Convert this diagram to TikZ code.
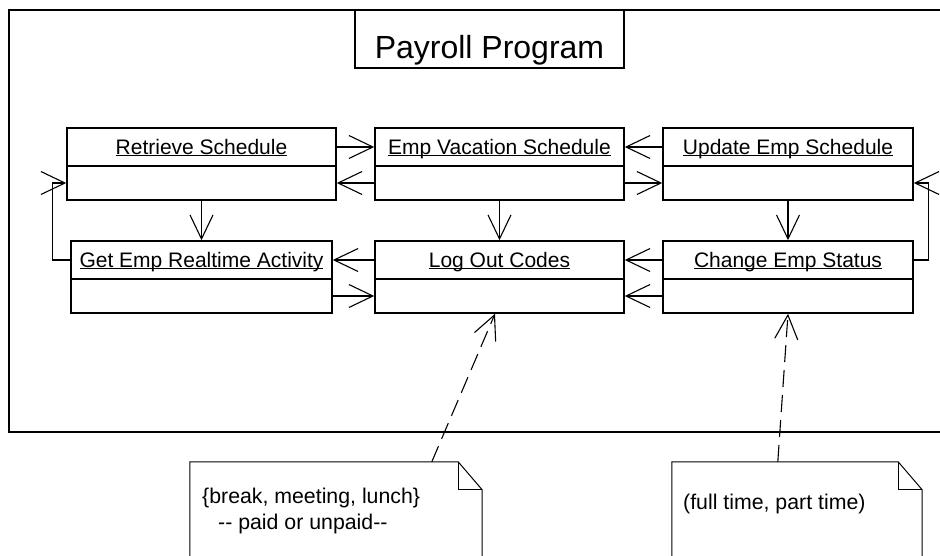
\documentclass[tikz,border=0pt]{standalone}
\usepackage{fontspec}
\setmainfont{Liberation Sans}
\usetikzlibrary{arrows.meta,calc}
\newcommand{\myul}[1]{\setbox0\hbox{#1}\rlap{\rule[-2.4pt]{\wd0}{1.1pt}}\box0}
\begin{document}
\begin{tikzpicture}[x=1pt,y=-1pt,
  boxhead/.style={draw,line width=1.6pt,inner sep=0pt,minimum height=38pt,
    text height=19pt,text depth=5pt,font=\fontsize{21}{25}\selectfont},
  boxbody/.style={draw,line width=1.6pt,inner sep=0pt,minimum height=34pt},
  conn/.style={line width=1.1pt,-{Straight Barb[length=24pt,width=23pt]}},
  dconn/.style={conn,dash pattern=on 17pt off 8pt},
  noteline/.style={line width=1pt},
  notetext/.style={inner sep=0pt,anchor=base west,font=\fontsize{21.3}{25}\selectfont}]
\clip (0,0) rectangle (940,555);
% outer frame
\draw[line width=1.6pt] (945,10) -- (9,10) -- (9,432) -- (945,432);
% title
\node[draw,line width=1.6pt,inner sep=0pt,minimum width=269pt,minimum height=58pt,
  text height=40pt,text depth=2pt,font=\fontsize{32}{36}\selectfont] (ttl) at (489.5,39) {Payroll Program};
% classes
\node[boxhead,minimum width=269pt] (ret) at (201.5,147) {\myul{Retrieve Schedule}};
\node[boxbody,minimum width=269pt] (retb) at (201.5,183) {};
\node[boxhead,minimum width=249pt] (vac) at (499.5,147) {\myul{Emp Vacation Schedule}};
\node[boxbody,minimum width=249pt] (vacb) at (499.5,183) {};
\node[boxhead,minimum width=250pt] (upd) at (788,147) {\myul{Update Emp Schedule}};
\node[boxbody,minimum width=250pt] (updb) at (788,183) {};
\node[boxhead,minimum width=261pt] (get) at (201.5,260) {\myul{Get Emp Realtime Activity}};
\node[boxbody,minimum width=261pt] (getb) at (201.5,296) {};
\node[boxhead,minimum width=249pt] (log) at (499.5,260) {\myul{Log Out Codes}};
\node[boxbody,minimum width=249pt] (logb) at (499.5,296) {};
\node[boxhead,minimum width=250pt] (chg) at (788,260) {\myul{Change Emp Status}};
\node[boxbody,minimum width=250pt] (chgb) at (788,296) {};
% connectors
\draw[conn] (ret.east) -- (vac.west);
\draw[conn] (vacb.west) -- (retb.east);
\draw[conn] (upd.west) -- (vac.east);
\draw[conn] (vacb.east) -- (updb.west);
\draw[conn] (retb.south) -- (get.north);
\draw[conn] (vacb.south) -- (log.north);
\draw[conn] (updb.south) -- (chg.north);
\draw[conn] (log.west) -- (get.east);
\draw[conn] (getb.east) -- (logb.west);
\draw[conn] (chg.west) -- (log.east);
\draw[conn] (chgb.west) -- (logb.east);
\draw[conn] (get.west) -- ++(-18,0) |- (retb.west);
\draw[conn] (chg.east) -- ++(15,0) |- (updb.east);
% notes
\node[inner sep=0pt,minimum width=292pt,minimum height=103pt] (n1) at (336,513.5) {};
\node[inner sep=0pt,minimum width=250pt,minimum height=103pt] (n2) at (797,513.5) {};
\draw[noteline] (n1.south west) -- (n1.north west) -- ($(n1.north east)+(-24,0)$) -- ($(n1.north east)+(0,28)$) -- (n1.south east);
\draw[noteline] ($(n1.north east)+(-24,0)$) |- ($(n1.north east)+(0,28)$);
\draw[noteline] (n2.south west) -- (n2.north west) -- ($(n2.north east)+(-24,0)$) -- ($(n2.north east)+(0,28)$) -- (n2.south east);
\draw[noteline] ($(n2.north east)+(-24,0)$) |- ($(n2.north east)+(0,28)$);
\node[notetext] (n1a) at (202,503) {\{break, meeting, lunch\}};
\node[notetext] (n1b) at (218,529) {-{}- paid or unpaid-{}-};
\node[notetext] (n2a) at (683,509) {(full time, part time)};
\draw[dconn] ($(n1.north west)+(242,0)$) -- ($(logb.south)+(-4.5,0)$);
\draw[dconn] ($(n2.north west)+(106,0)$) -- (chgb.south);
\end{tikzpicture}
\end{document}
